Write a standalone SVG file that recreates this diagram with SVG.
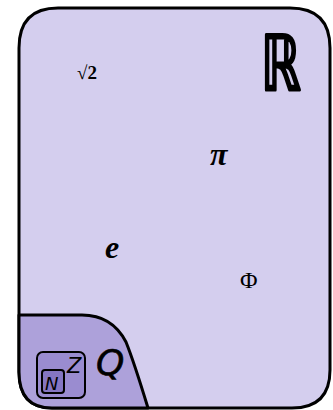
<svg xmlns="http://www.w3.org/2000/svg" width="333" height="410" viewBox="0 0 333 410">
<style>
.edge{stroke:#000;stroke-width:3;stroke-linejoin:round;stroke-linecap:round}
.num{font-family:"Liberation Serif","DejaVu Serif",serif;fill:#000}
.set{font-family:"DejaVu Sans","Liberation Sans",sans-serif;fill:#000}
</style>
<g id="R">
<path d="M58,8 H290 Q330,8 330,48 V370 Q330,408 292,408 H52 Q19,408 19,372 V48 Q19,8 58,8 Z" style="fill:#d4ceee" class="edge"/>
<text class="set" x="261" y="90" font-size="76" textLength="40" lengthAdjust="spacingAndGlyphs" stroke="#000" stroke-width="3" stroke-linejoin="round">ℝ</text>
</g>
<g id="Q">
<path d="M19,315 H82 Q112,315 126,342 Q134,362 148,408 H52 Q19,408 19,372 Z" style="fill:#ada1da" class="edge"/>
<text class="set" x="96" y="375" font-size="36" font-style="italic" stroke="#000" stroke-width="0.6">Q</text>
</g>
<g id="Z">
<rect x="37" y="352" width="48" height="46" rx="6" fill="#9a8cd0" stroke="#000" stroke-width="2"/>
<text class="set" x="67" y="373" font-size="21" font-style="italic">Z</text>
</g>
<g id="N">
<rect x="42" y="370" width="22" height="23" rx="3" fill="#8576c2" stroke="#000" stroke-width="2"/>
<text class="set" x="45" y="390" font-size="18" font-style="italic">N</text>
</g>
<g id="numbers">
<text class="num" x="77" y="79" font-size="19" font-weight="bold">√2</text>
<text class="num" x="210" y="165" font-size="32" font-weight="bold" font-style="italic">π</text>
<text class="num" x="105" y="258" font-size="32" font-weight="bold" font-style="italic">e</text>
<text class="num" x="240" y="288" font-size="24">Φ</text>
</g>
</svg>
